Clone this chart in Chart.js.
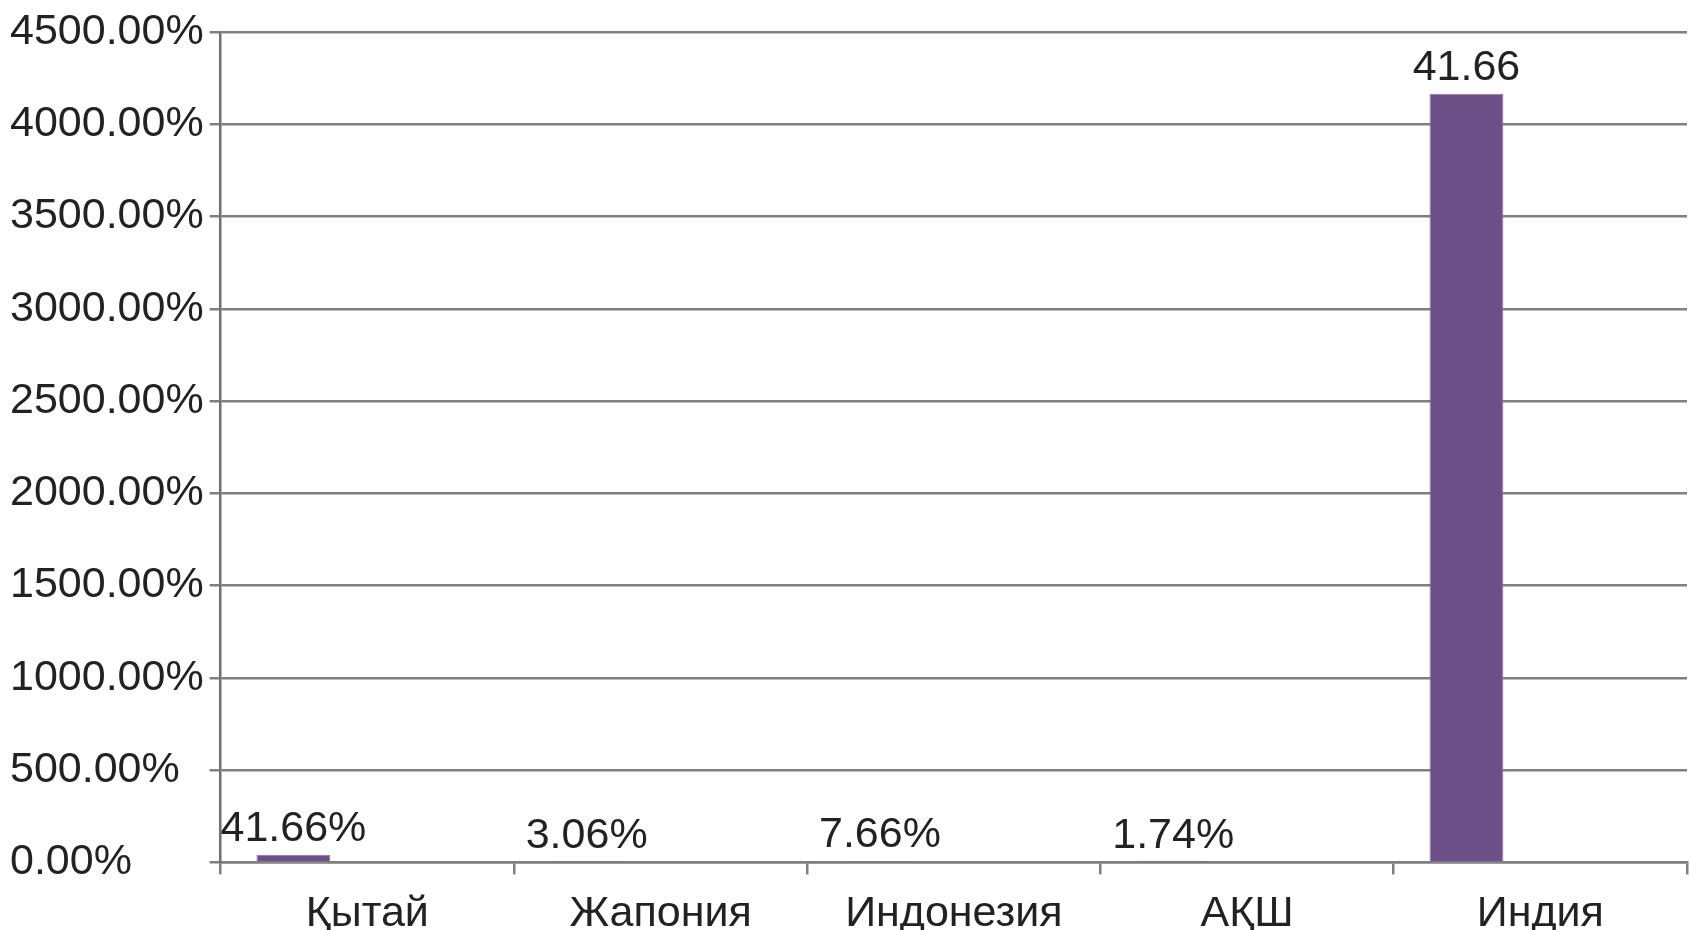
<!DOCTYPE html>
<html>
<head>
<meta charset="utf-8">
<script src="https://cdn.jsdelivr.net/npm/chart.js@4"></script>
<style>
  html, body { margin: 0; padding: 0; background: #fff; }
  #wrap { width: 1690px; height: 930px; }
</style>
</head>
<body>
<div id="wrap"><canvas id="myChart"></canvas></div>
<script>
const countries = ["Қытай", "Жапония", "Индонезия", "АҚШ", "Индия"];
const shareValues = [41.66, 3.06, 7.66, 1.74, 4166];
const valueLabels = ["41.66%", "3.06%", "7.66%", "1.74%", "41.66"];
const emptySeries = [null, null, null, null, null];

const gridGray = "#7f7f7f";
const textColor = "#222";

// data labels above each bar of the first series
const barLabels = {
  id: "barLabels",
  afterDatasetsDraw(chart) {
    const ctx = chart.ctx;
    const meta = chart.getDatasetMeta(0);
    ctx.save();
    ctx.font = "43px 'Liberation Sans'";
    ctx.fillStyle = textColor;
    ctx.textAlign = "center";
    ctx.textBaseline = "bottom";
    meta.data.forEach((bar, i) => {
      ctx.fillText(valueLabels[i], bar.x, bar.y - 4);
    });
    ctx.restore();
  }
};

new Chart("myChart", {
  type: "bar",
  data: {
    labels: countries,
    datasets: [
      { data: shareValues, backgroundColor: "#6d5088", borderColor: "#8a7aa0", borderWidth: 1 },
      { data: emptySeries },
      { data: emptySeries }
    ]
  },
  options: {
    responsive: true,
    maintainAspectRatio: false,
    animation: false,
    layout: { padding: { top: 32, right: 3, left: 10, bottom: -24 } },
    datasets: { bar: { categoryPercentage: 0.756, barPercentage: 1 } },
    scales: {
      x: {
        grid: { drawOnChartArea: false, drawTicks: true, tickLength: 12, color: gridGray, lineWidth: 2.5 },
        border: { color: gridGray, width: 2.5 },
        ticks: { color: textColor, font: { family: "Liberation Sans", size: 43 }, padding: 14 }
      },
      y: {
        min: 0,
        max: 4500,
        grid: { color: gridGray, lineWidth: 2.5, tickLength: 11 },
        border: { color: "#707070", width: 2.5 },
        ticks: {
          stepSize: 500,
          color: textColor,
          font: { family: "Liberation Sans", size: 43 },
          padding: 3,
          crossAlign: "far",
          callback: v => v.toFixed(2) + "%"
        }
      }
    },
    plugins: {
      legend: { display: false },
      tooltip: { enabled: false }
    }
  },
  plugins: [barLabels]
});
</script>
</body>
</html>
